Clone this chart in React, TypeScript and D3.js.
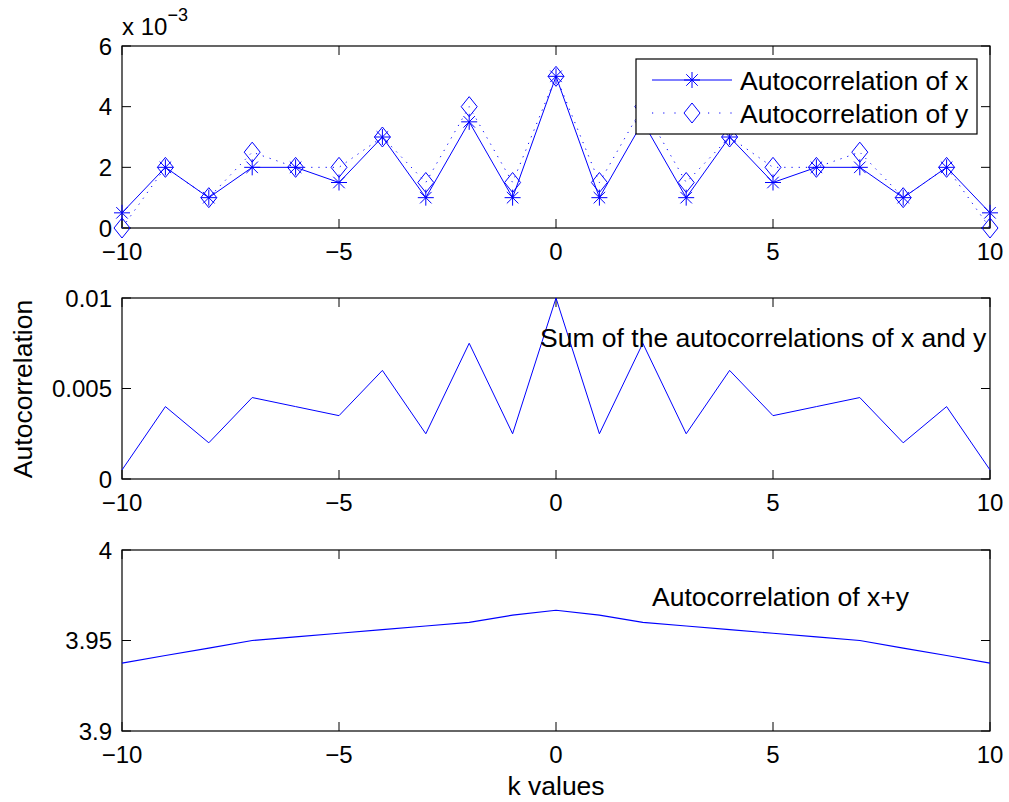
import React from 'react';
import * as d3 from 'd3';

// lags
const kValues = [-10, -9, -8, -7, -6, -5, -4, -3, -2, -1, 0, 1, 2, 3, 4, 5, 6, 7, 8, 9, 10];
// top panel, units of 1e-3
const autoX = [0.5, 2, 1, 2, 2, 1.5, 3, 1, 3.5, 1, 5, 1, 3.5, 1, 3, 1.5, 2, 2, 1, 2, 0.5];
const autoY = [0, 2, 1, 2.5, 2, 2, 3, 1.5, 4, 1.5, 5, 1.5, 4, 1.5, 3, 2, 2, 2.5, 1, 2, 0];
// middle panel
const sumXY = [0.0005, 0.004, 0.002, 0.0045, 0.004, 0.0035, 0.006, 0.0025, 0.0075, 0.0025, 0.01,
  0.0025, 0.0075, 0.0025, 0.006, 0.0035, 0.004, 0.0045, 0.002, 0.004, 0.0005];
// bottom panel
const autoXplusY = [3.9375, 3.9417, 3.9458, 3.95, 3.952, 3.954, 3.956, 3.958, 3.96, 3.964, 3.9667,
  3.964, 3.96, 3.958, 3.956, 3.954, 3.952, 3.95, 3.9458, 3.9417, 3.9375];

const xTicks = [-10, -5, 0, 5, 10];
const topYTicks = [0, 2, 4, 6];
const midYTicks = [0, 0.005, 0.01];
const midYLabels = ['0', '0.005', '0.01'];
const botYTicks = [3.9, 3.95, 4];
const botYLabels = ['3.9', '3.95', '4'];

const legendLabels = ['Autocorrelation of x', 'Autocorrelation of y'];

const W = 1009, H = 802;
const left = 122, right = 990;
const panels = [
  { top: 46, bottom: 228 },
  { top: 298, bottom: 479 },
  { top: 550, bottom: 731 },
];
const BLUE = '#0000ff';
const FONT = 'Liberation Sans, Arial, Helvetica, sans-serif';
const tickFont = 24;
const txtFont = 26.5;
const tickLen = 9;

const xScale = d3.scaleLinear().domain([-10, 10]).range([left, right]);
const minus = (v: number) => (v < 0 ? '\u2212' + Math.abs(v) : String(v));

const starPath = (r: number) => {
  const d = r * 0.72;
  return `M${-r},0H${r}M0,${-r}V${r}M${-d},${-d}L${d},${d}M${-d},${d}L${d},${-d}`;
};
const diamondPath = (w: number, h: number) => `M0,${-h}L${w},0L0,${h}L${-w},0Z`;

const Axes = ({ p, yScale, yTicks, yLabels }: any) => (
  <g>
    <rect x={left} y={p.top} width={right - left} height={p.bottom - p.top} fill='none' stroke='#000' strokeWidth={1.2} />
    {xTicks.map(t => (
      <g key={'x' + t}>
        <line x1={xScale(t)} x2={xScale(t)} y1={p.bottom} y2={p.bottom - tickLen} stroke='#000' />
        <line x1={xScale(t)} x2={xScale(t)} y1={p.top} y2={p.top + tickLen} stroke='#000' />
        <text x={xScale(t)} y={p.bottom + 32} textAnchor='middle' fontSize={tickFont}>{minus(t)}</text>
      </g>
    ))}
    {yTicks.map((t: number, i: number) => (
      <g key={'y' + t}>
        <line x1={left} x2={left + tickLen} y1={yScale(t)} y2={yScale(t)} stroke='#000' />
        <line x1={right} x2={right - tickLen} y1={yScale(t)} y2={yScale(t)} stroke='#000' />
        <text x={left - 10} y={yScale(t)} dy='0.36em' textAnchor='end' fontSize={tickFont}>{yLabels[i]}</text>
      </g>
    ))}
  </g>
);

const App = () => {
  const yTop = d3.scaleLinear().domain([0, 6]).range([panels[0].bottom, panels[0].top]);
  const yMid = d3.scaleLinear().domain([0, 0.01]).range([panels[1].bottom, panels[1].top]);
  const yBot = d3.scaleLinear().domain([3.9, 4]).range([panels[2].bottom, panels[2].top]);

  const lineOf = (ys: any) => d3.line<number>().x((_, i) => xScale(kValues[i])).y(v => ys(v));

  const lx = 636, ly = 59, lw = 341, lh = 75;

  return (
    <svg width={W} height={H} style={{ position: 'absolute', left: 0, top: 0, background: '#fff' }}
      fontFamily={FONT} fill='#000'>
      <rect width={W} height={H} fill='#fff' />

      {/* top panel */}
      <Axes p={panels[0]} yScale={yTop} yTicks={topYTicks} yLabels={topYTicks.map(String)} />
      <text x={122} y={35} fontSize={tickFont}>x 10<tspan dy={-14} fontSize={18}>{'\u22123'}</tspan></text>
      <path d={lineOf(yTop)(autoY) || ''} fill='none' stroke={BLUE} strokeWidth={1} strokeDasharray='1.2,6' />
      <path d={lineOf(yTop)(autoX) || ''} fill='none' stroke={BLUE} strokeWidth={1} />
      {autoY.map((v, i) => (
        <path key={'d' + i} transform={`translate(${xScale(kValues[i])},${yTop(v)})`} d={diamondPath(8, 10)} fill='none' stroke={BLUE} strokeWidth={1} />
      ))}
      {autoX.map((v, i) => (
        <path key={'s' + i} transform={`translate(${xScale(kValues[i])},${yTop(v)})`} d={starPath(8)} fill='none' stroke={BLUE} strokeWidth={1} />
      ))}
      {/* legend */}
      <g>
        <rect x={lx} y={ly} width={lw} height={lh} fill='#fff' stroke='#000' strokeWidth={1.2} />
        <line x1={652} x2={732} y1={80} y2={80} stroke={BLUE} />
        <path transform='translate(692,80)' d={starPath(8)} fill='none' stroke={BLUE} />
        <text x={740} y={80} dy='0.36em' fontSize={txtFont}>{legendLabels[0]}</text>
        <line x1={652} x2={732} y1={113} y2={113} stroke={BLUE} strokeDasharray='1.2,10' />
        <path transform='translate(692,113)' d={diamondPath(8, 10)} fill='#fff' stroke={BLUE} />
        <text x={740} y={113} dy='0.36em' fontSize={txtFont}>{legendLabels[1]}</text>
      </g>

      {/* middle panel */}
      <Axes p={panels[1]} yScale={yMid} yTicks={midYTicks} yLabels={midYLabels} />
      <path d={lineOf(yMid)(sumXY) || ''} fill='none' stroke={BLUE} strokeWidth={1} />
      <text x={540} y={337} dy='0.36em' fontSize={txtFont}>Sum of the autocorrelations of x and y</text>
      <text transform='translate(22,389) rotate(-90)' dy='0.36em' textAnchor='middle' fontSize={txtFont}>Autocorrelation</text>

      {/* bottom panel */}
      <Axes p={panels[2]} yScale={yBot} yTicks={botYTicks} yLabels={botYLabels} />
      <path d={lineOf(yBot)(autoXplusY) || ''} fill='none' stroke={BLUE} strokeWidth={1.2} />
      <text x={652} y={596} dy='0.36em' fontSize={txtFont}>Autocorrelation of x+y</text>
      <text x={556} y={785} dy='0.36em' textAnchor='middle' fontSize={txtFont}>k values</text>
    </svg>
  );
};

export default App;
